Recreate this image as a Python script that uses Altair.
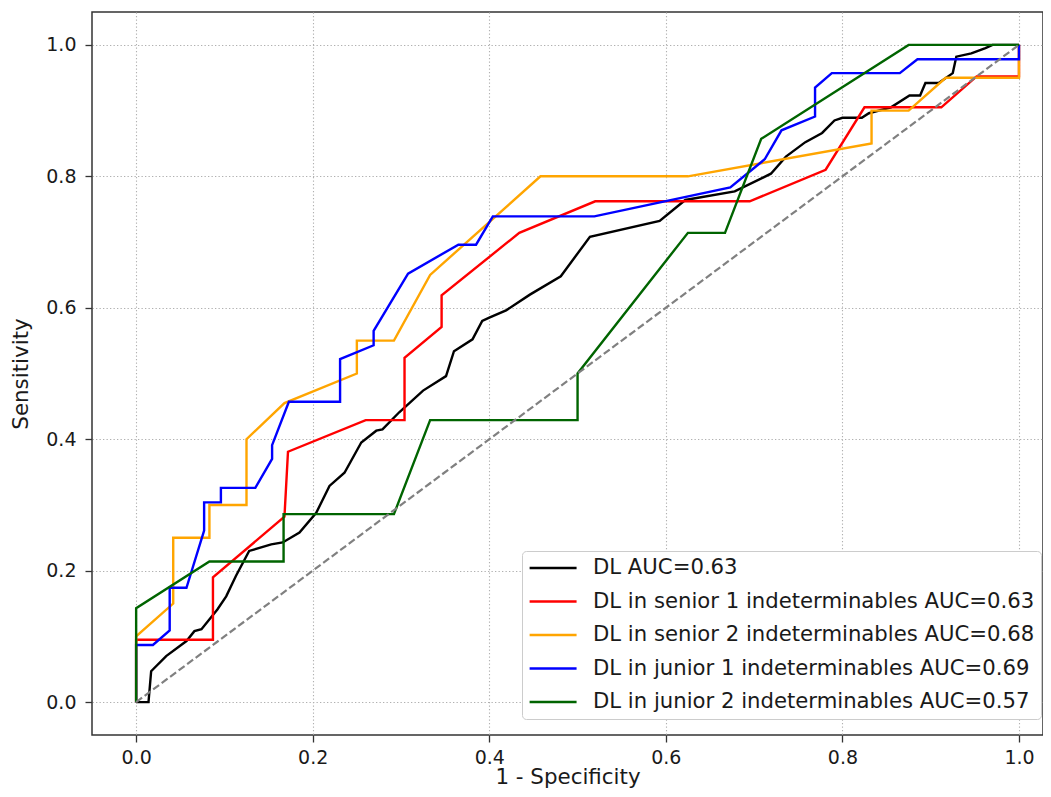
import altair as alt
import pandas as pd

# ---- data ----
series_names = [
    "DL AUC=0.63",
    "DL in senior 1 indeterminables AUC=0.63",
    "DL in senior 2 indeterminables AUC=0.68",
    "DL in junior 1 indeterminables AUC=0.69",
    "DL in junior 2 indeterminables AUC=0.57",
]
series_colors = ["black", "red", "orange", "blue", "darkgreen"]

dl_x = [0, 0.014, 0.017, 0.034, 0.057, 0.066, 0.074, 0.092, 0.102, 0.113, 0.128, 0.153,
        0.166, 0.185, 0.204, 0.219, 0.236, 0.255, 0.272, 0.279, 0.298, 0.325, 0.351, 0.360,
        0.381, 0.392, 0.400, 0.419, 0.446, 0.481, 0.514, 0.593, 0.622, 0.678, 0.719, 0.736,
        0.758, 0.777, 0.791, 0.800, 0.822, 0.830, 0.855, 0.876, 0.888, 0.894, 0.909, 0.925,
        0.929, 0.946, 0.962, 0.970, 1.0]
dl_y = [0, 0, 0.047, 0.070, 0.093, 0.108, 0.111, 0.141, 0.161, 0.192, 0.230, 0.240,
        0.243, 0.258, 0.288, 0.329, 0.349, 0.395, 0.413, 0.415, 0.441, 0.474, 0.496, 0.534,
        0.552, 0.580, 0.585, 0.596, 0.620, 0.648, 0.708, 0.732, 0.764, 0.777, 0.804, 0.830,
        0.852, 0.866, 0.885, 0.889, 0.889, 0.896, 0.905, 0.923, 0.923, 0.942, 0.942, 0.957,
        0.982, 0.987, 0.995, 1.0, 1.0]

s1_x = [0, 0, 0.087, 0.087, 0.168, 0.172, 0.260, 0.304, 0.304, 0.346, 0.346, 0.434,
        0.520, 0.695, 0.781, 0.825, 0.912, 0.952, 1.0, 1.0]
s1_y = [0, 0.095, 0.095, 0.190, 0.282, 0.381, 0.429, 0.429, 0.524, 0.571, 0.619, 0.714,
        0.762, 0.762, 0.810, 0.905, 0.905, 0.952, 0.952, 1.0]

s2_x = [0, 0, 0.042, 0.042, 0.083, 0.083, 0.125, 0.125, 0.168, 0.250, 0.250, 0.292,
        0.333, 0.458, 0.625, 0.833, 0.833, 0.875, 0.917, 1.0, 1.0]
s2_y = [0, 0.10, 0.15, 0.25, 0.25, 0.30, 0.30, 0.40, 0.455, 0.50, 0.55, 0.55,
        0.65, 0.80, 0.80, 0.85, 0.90, 0.90, 0.95, 0.95, 1.0]

j1_x = [0, 0, 0.019, 0.038, 0.038, 0.057, 0.077, 0.077, 0.096, 0.096, 0.135, 0.154,
        0.154, 0.173, 0.231, 0.231, 0.269, 0.269, 0.308, 0.365, 0.385, 0.404, 0.519, 0.673,
        0.712, 0.731, 0.769, 0.769, 0.788, 0.865, 0.885, 1.0, 1.0]
j1_y = [0, 0.087, 0.087, 0.109, 0.174, 0.174, 0.261, 0.304, 0.304, 0.326, 0.326, 0.370,
        0.391, 0.457, 0.457, 0.522, 0.543, 0.565, 0.652, 0.696, 0.696, 0.739, 0.739, 0.783,
        0.826, 0.870, 0.891, 0.935, 0.957, 0.957, 0.978, 0.978, 1.0]

j2_x = [0, 0, 0.083, 0.167, 0.167, 0.292, 0.333, 0.500, 0.500, 0.625, 0.667, 0.708,
        0.875, 1.0]
j2_y = [0, 0.143, 0.214, 0.214, 0.286, 0.286, 0.429, 0.429, 0.500, 0.714, 0.714, 0.857,
        1.0, 1.0]

diag_x = [0, 1]
diag_y = [0, 1]

tick_values = [0.0, 0.2, 0.4, 0.6, 0.8, 1.0]

# ---- build table ----
rows = []
for name, xs, ys in zip(series_names,
                        [dl_x, s1_x, s2_x, j1_x, j2_x],
                        [dl_y, s1_y, s2_y, j1_y, j2_y]):
    for k, (xv, yv) in enumerate(zip(xs, ys)):
        rows.append({"series": name, "fpr": xv, "tpr": yv, "step": k})
df = pd.DataFrame(rows)
diag_df = pd.DataFrame({"fpr": diag_x, "tpr": diag_y})

x_scale = alt.Scale(domain=[-0.05, 1.0272], nice=False, zero=False)
y_scale = alt.Scale(domain=[-0.05, 1.05], nice=False, zero=False)

x_axis = alt.Axis(values=tick_values, format=".1f", title="1 - Specificity",
                  labelPadding=6, titleY=42, titleBaseline="middle")
y_axis = alt.Axis(values=tick_values, format=".1f", title="Sensitivity",
                  labelPadding=9, titleX=-71, titleY=361.5, titleBaseline="middle")

lines = alt.Chart(df).mark_line(strokeWidth=2.4).encode(
    x=alt.X("fpr:Q", scale=x_scale, axis=x_axis),
    y=alt.Y("tpr:Q", scale=y_scale, axis=y_axis),
    color=alt.Color(
        "series:N",
        scale=alt.Scale(domain=series_names, range=series_colors),
        legend=alt.Legend(
            title=None,
            orient="none",
            legendX=430,
            legendY=539,
            symbolType="M-1,0H4",
            symbolSize=353,
            symbolStrokeWidth=2.6,
            labelFont="DejaVu Sans",
            labelFontSize=21.2,
            labelColor="#1a1a1a",
            labelOffset=43,
            labelLimit=0,
            rowPadding=11.5,
            padding=6,
            fillColor="white",
            strokeColor="#cccccc",
            cornerRadius=4,
        ),
    ),
    order=alt.Order("step:Q"),
)

diag = alt.Chart(diag_df).mark_line(
    color="gray", strokeDash=[7.4, 3.2], strokeWidth=2.2
).encode(
    x=alt.X("fpr:Q", scale=x_scale),
    y=alt.Y("tpr:Q", scale=y_scale),
)

chart = alt.layer(lines, diag).properties(
    width=951,
    height=723,
    padding={"left": 84, "top": 4, "right": 0, "bottom": 54},
    autosize=alt.AutoSizeParams(type="none"),
    background="white",
).configure_view(
    stroke="#333333", strokeWidth=1.5
).configure_axis(
    domain=False,
    grid=True,
    gridColor="#b0b0b0",
    gridDash=[1.3, 2.2],
    gridWidth=1.1,
    tickColor="#333333",
    tickSize=7,
    tickWidth=1.3,
    labelFont="DejaVu Sans",
    labelFontSize=19,
    labelColor="#1a1a1a",
    titleFont="DejaVu Sans",
    titleFontSize=21.4,
    titleFontWeight="normal",
    titleColor="#1a1a1a",
)

chart.save("out.html", embed_options={"renderer": "svg", "actions": False})
